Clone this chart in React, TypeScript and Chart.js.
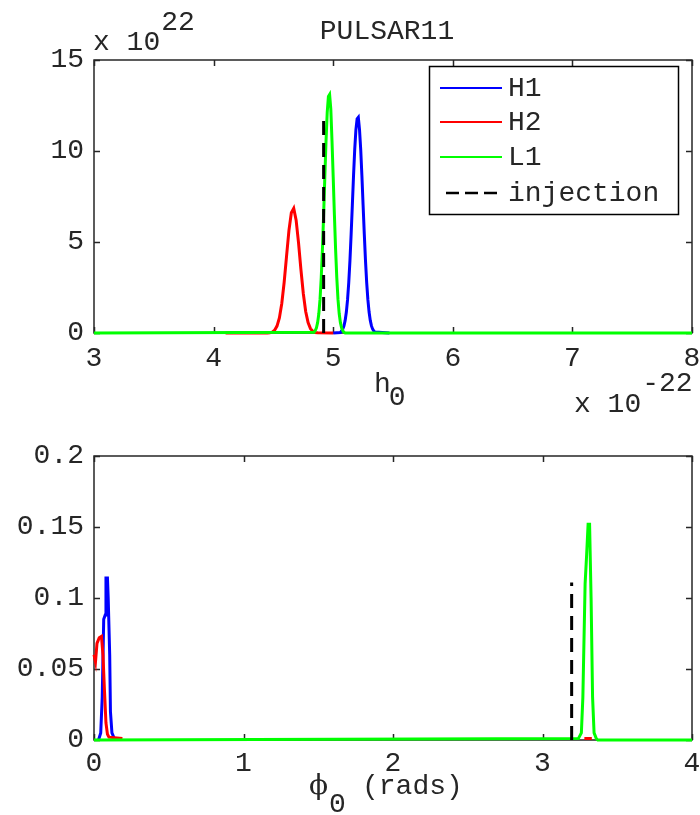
import React, { useEffect, useRef } from "react";
import { Chart, registerables } from "chart.js";

Chart.register(...registerables);

const FONT = '"Liberation Mono", "DejaVu Sans Mono", monospace';
const TEXT = "#262626";
const AXIS = "#262626";
const BLUE = "#0000ff";
const RED = "#ff0000";
const GREEN = "#00ff00";

// ---- top panel: h0 posterior (x in units of 1e-22, y in units of 1e22) ----
const topXTicks = [3, 4, 5, 6, 7, 8];
const topYTicks = [0, 5, 10, 15];

const h0H1X = [5.0, 5.06, 5.07, 5.08, 5.09, 5.1, 5.11, 5.12, 5.13, 5.14, 5.15, 5.16, 5.17, 5.18, 5.19, 5.2, 5.21, 5.22, 5.23, 5.24, 5.25, 5.26, 5.27, 5.28, 5.29, 5.3, 5.31, 5.32, 5.33, 5.34, 5.35, 5.47];
const h0H1Y = [0, 0.03, 0.11, 0.21, 0.39, 0.69, 1.15, 1.83, 2.77, 3.98, 5.43, 7.02, 8.64, 10.09, 11.18, 11.77, 11.85, 11.18, 10.09, 8.64, 7.02, 5.43, 3.98, 2.77, 1.83, 1.15, 0.69, 0.39, 0.21, 0.11, 0.05, 0];

const h0H2X = [4.1, 4.45, 4.47, 4.49, 4.51, 4.53, 4.55, 4.57, 4.59, 4.61, 4.63, 4.65, 4.67, 4.69, 4.71, 4.73, 4.75, 4.77, 4.79, 4.81, 4.83, 4.85, 4.87, 5.0];
const h0H2Y = [0, 0.005, 0.016, 0.05, 0.15, 0.38, 0.83, 1.62, 2.79, 4.23, 5.64, 6.61, 6.85, 6.2, 4.97, 3.49, 2.17, 1.18, 0.57, 0.24, 0.09, 0.03, 0.01, 0];

const h0L1X = [3.0, 4.84, 4.85, 4.86, 4.87, 4.88, 4.89, 4.9, 4.91, 4.92, 4.93, 4.94, 4.95, 4.96, 4.97, 4.98, 4.99, 5.0, 5.01, 5.02, 5.03, 5.04, 5.05, 5.06, 5.07, 5.08, 5.09, 5.1, 8.0];
const h0L1Y = [0, 0.04, 0.13, 0.29, 0.58, 1.07, 1.86, 3.04, 4.6, 6.5, 8.57, 10.55, 12.12, 12.99, 13.1, 12.3, 10.55, 8.57, 6.5, 4.6, 3.04, 1.86, 1.07, 0.58, 0.29, 0.13, 0.05, 0, 0];

const h0InjX = [4.92, 4.92];
const h0InjY = [0, 12];

// ---- bottom panel: phi0 posterior (rads) ----
const botXTicks = [0, 1, 2, 3, 4];
const botYTicks = [0, 0.05, 0.1, 0.15, 0.2];

const phiH1X = [0.03, 0.045, 0.055, 0.065, 0.075, 0.08, 0.09, 0.095, 0.105, 0.11, 0.12, 0.14];
const phiH1Y = [0, 0.005, 0.03, 0.085, 0.088, 0.114, 0.114, 0.1, 0.06, 0.02, 0.005, 0];

const phiH2X = [0, 0.01, 0.02, 0.035, 0.05, 0.06, 0.07, 0.08, 0.09, 0.1, 0.19, 0.2, 3.28, 3.33];
const phiH2Y = [0.06, 0.055, 0.068, 0.072, 0.073, 0.06, 0.035, 0.012, 0.004, 0.002, 0.001, null, 0.001, 0.001];

const phiL1X = [0, 3.24, 3.26, 3.27, 3.285, 3.295, 3.305, 3.315, 3.325, 3.335, 3.345, 3.36, 3.37, 4];
const phiL1Y = [0, 0.001, 0.005, 0.03, 0.11, 0.13, 0.152, 0.152, 0.1, 0.03, 0.005, 0.001, 0, 0];

const phiInjX = [3.195, 3.195];
const phiInjY = [0, 0.111];

const legendLabels = ["H1", "H2", "L1", "injection"];
const legendColors = [BLUE, RED, GREEN, "#000000"];

function ds(xs: number[], ys: (number | null)[], color: string, order: number, dash?: number[], width = 3) {
  return {
    data: xs.map((x, i) => ({ x, y: ys[i] })),
    borderColor: color,
    backgroundColor: color,
    borderWidth: width,
    borderDash: dash || [],
    pointRadius: 0,
    tension: 0,
    fill: false,
    order,
    clip: false,
    spanGaps: false,
  };
}

function axes(xmin: number, xmax: number, xt: number[], ymin: number, ymax: number, yt: number[], xh: number, labelPad: number) {
  const tickFont = { family: FONT, size: 28 };
  return {
    x: {
      type: "linear",
      min: xmin,
      max: xmax,
      afterBuildTicks: (s: any) => {
        s.ticks = xt.map((v) => ({ value: v }));
      },
      afterFit: (s: any) => {
        s.height = xh;
        s.paddingLeft = 0;
        s.paddingRight = 0;
      },
      ticks: { font: tickFont, color: TEXT, padding: labelPad, maxRotation: 0, autoSkip: false, callback: (v: any) => String(v) },
      grid: { display: false, drawTicks: false },
      border: { display: false },
    },
    y: {
      type: "linear",
      min: ymin,
      max: ymax,
      afterBuildTicks: (s: any) => {
        s.ticks = yt.map((v) => ({ value: v }));
      },
      afterFit: (s: any) => {
        s.width = 94;
        s.paddingTop = 0;
        s.paddingBottom = 0;
      },
      ticks: { font: tickFont, color: TEXT, padding: 10, autoSkip: false, callback: (v: any) => String(v) },
      grid: { display: false, drawTicks: false },
      border: { display: false },
    },
  };
}

function frame(xt: number[], yt: number[], extra: (ctx: CanvasRenderingContext2D, chart: any) => void) {
  return {
    id: "frame",
    beforeDatasetsDraw(chart: any) {
      const { ctx, chartArea: a, scales } = chart;
      ctx.save();
      ctx.strokeStyle = AXIS;
      ctx.lineWidth = 1.5;
      ctx.strokeRect(a.left, a.top, a.right - a.left, a.bottom - a.top);
      ctx.beginPath();
      for (const t of xt) {
        const px = Math.round(scales.x.getPixelForValue(t)) + 0.5;
        ctx.moveTo(px, a.bottom);
        ctx.lineTo(px, a.bottom - 6);
        ctx.moveTo(px, a.top);
        ctx.lineTo(px, a.top + 6);
      }
      for (const t of yt) {
        const py = Math.round(scales.y.getPixelForValue(t)) + 0.5;
        ctx.moveTo(a.left, py);
        ctx.lineTo(a.left + 6, py);
        ctx.moveTo(a.right, py);
        ctx.lineTo(a.right - 6, py);
      }
      ctx.stroke();
      ctx.restore();
    },
    afterDraw(chart: any) {
      const ctx = chart.ctx as CanvasRenderingContext2D;
      ctx.save();
      extra(ctx, chart);
      ctx.restore();
    },
  };
}

function drawTop(ctx: CanvasRenderingContext2D) {
  ctx.fillStyle = TEXT;
  ctx.font = `28px ${FONT}`;
  ctx.textBaseline = "alphabetic";
  ctx.textAlign = "center";
  ctx.fillText("PULSAR11", 387, 39);
  ctx.textAlign = "left";
  // y exponent
  const w1 = ctx.measureText("x 10").width;
  ctx.fillText("x 10", 93, 50);
  ctx.fillText("22", 93 + w1 + 1, 30);
  // x label
  const wh = ctx.measureText("h").width;
  ctx.fillText("h", 374, 392);
  ctx.fillText("0", 374 + wh - 2, 405);
  // x exponent
  const w2 = ctx.measureText("x 10").width;
  ctx.fillText("x 10", 574, 412);
  ctx.fillText("-22", 574 + w2 + 1, 391);

  // legend
  ctx.fillStyle = "#ffffff";
  ctx.fillRect(429, 66, 249, 148);
  ctx.strokeStyle = "#000000";
  ctx.lineWidth = 1.5;
  ctx.strokeRect(429.5, 66.5, 249, 148);
  const rows = [88, 122, 157, 193];
  ctx.textBaseline = "middle";
  legendLabels.forEach((lab, i) => {
    const y = rows[i];
    ctx.beginPath();
    ctx.strokeStyle = legendColors[i];
    ctx.lineWidth = i === 3 ? 2.5 : 2;
    if (i === 3) ctx.setLineDash([13, 6]);
    else ctx.setLineDash([]);
    ctx.moveTo(i === 3 ? 446 : 440, y);
    ctx.lineTo(502, y);
    ctx.stroke();
    ctx.setLineDash([]);
    ctx.fillStyle = TEXT;
    ctx.fillText(lab, 508, y + 1);
  });
}

function drawBottom(ctx: CanvasRenderingContext2D) {
  ctx.fillStyle = TEXT;
  ctx.textBaseline = "alphabetic";
  ctx.textAlign = "left";
  ctx.font = `28px "DejaVu Serif", serif`;
  ctx.fillText("\u03d5", 309, 364);
  ctx.font = `28px ${FONT}`;
  ctx.fillText("0", 329, 382);
  ctx.fillText("(rads)", 362, 364);
}

export default function App() {
  const topRef = useRef<HTMLCanvasElement>(null);
  const botRef = useRef<HTMLCanvasElement>(null);

  useEffect(() => {
    const top = new Chart(topRef.current as HTMLCanvasElement, {
      type: "line",
      data: {
        datasets: [
          ds(h0H1X, h0H1Y, BLUE, 4),
          ds(h0H2X, h0H2Y, RED, 3),
          ds(h0L1X, h0L1Y, GREEN, 2),
          ds(h0InjX, h0InjY, "#000000", 1, [14, 8], 3),
        ] as any,
      },
      options: {
        animation: false,
        responsive: false,
        devicePixelRatio: 1,
        layout: { padding: { top: 60, right: 8, left: 0, bottom: 0 } },
        plugins: { legend: { display: false }, tooltip: { enabled: false }, title: { display: false } },
        scales: axes(3, 8, topXTicks, 0, 15, topYTicks, 97, 9) as any,
      },
      plugins: [frame(topXTicks, topYTicks, drawTop)],
    });
    const bot = new Chart(botRef.current as HTMLCanvasElement, {
      type: "line",
      data: {
        datasets: [
          ds(phiH1X, phiH1Y, BLUE, 4),
          ds(phiH2X, phiH2Y, RED, 3),
          ds(phiL1X, phiL1Y, GREEN, 2),
          ds(phiInjX, phiInjY, "#000000", 1, [14, 8], 3),
        ] as any,
      },
      options: {
        animation: false,
        responsive: false,
        devicePixelRatio: 1,
        layout: { padding: { top: 26, right: 8, left: 0, bottom: 0 } },
        plugins: { legend: { display: false }, tooltip: { enabled: false }, title: { display: false } },
        scales: axes(0, 4, botXTicks, 0, 0.2, botYTicks, 75, 7) as any,
      },
      plugins: [frame(botXTicks, botYTicks, drawBottom)],
    });
    return () => {
      top.destroy();
      bot.destroy();
    };
  }, []);

  return (
    <div style={{ position: "absolute", left: 0, top: 0, width: 700, height: 815, background: "#ffffff" }}>
      <canvas ref={topRef} width={700} height={430} style={{ position: "absolute", left: 0, top: 0, width: 700, height: 430 }} />
      <canvas ref={botRef} width={700} height={385} style={{ position: "absolute", left: 0, top: 430, width: 700, height: 385 }} />
    </div>
  );
}
